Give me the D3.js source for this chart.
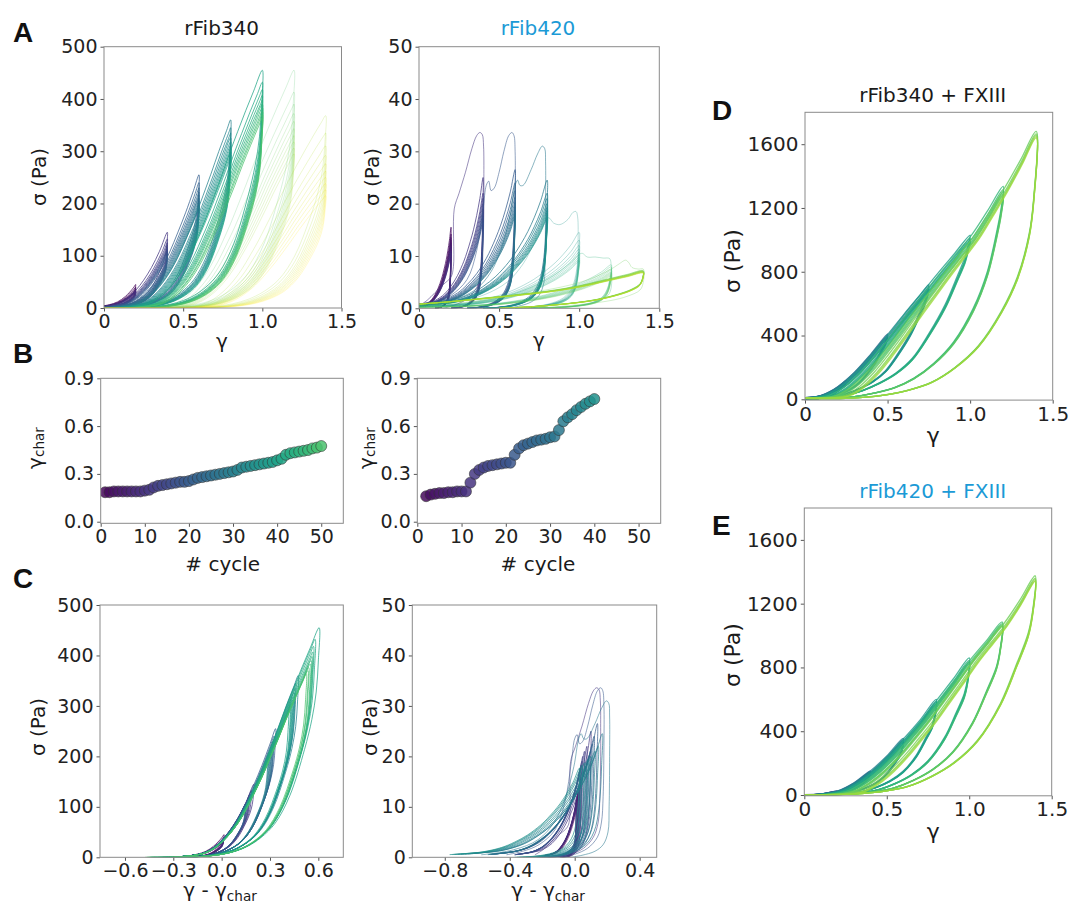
<!DOCTYPE html>
<meta charset="utf-8">
<style>
  body { margin: 0; background: #fff; }
  svg { font-family: "DejaVu Sans", sans-serif; }
  .frame { fill: none; stroke: #8a8a8a; stroke-width: 1; }
  .loop { fill: none; }
  .letter { font-family: "Liberation Sans", Arial, sans-serif; font-weight: bold; font-size: 28px; fill: #111; }
</style>
<body>
<script src="https://cdn.jsdelivr.net/npm/d3@7"></script>
<script>
// ---------- shared ----------
const ampGroups = [0.2, 0.4, 0.6, 0.8, 1.0, 1.2, 1.4];

// ---------- rFib340 (A left, B left, C left) ----------
// gamma_char per cycle 1..50 (panel B)
const gchar340 = [
  0.185, 0.185, 0.19, 0.19, 0.19, 0.19, 0.19, 0.19, 0.19, 0.195,
  0.20, 0.215, 0.225, 0.23, 0.235, 0.24, 0.245, 0.25, 0.25, 0.255,
  0.265, 0.275, 0.28, 0.285, 0.29, 0.295, 0.30, 0.305, 0.31, 0.315,
  0.325, 0.34, 0.345, 0.35, 0.355, 0.36, 0.365, 0.37, 0.375, 0.385,
  0.395, 0.42, 0.43, 0.435, 0.44, 0.445, 0.45, 0.46, 0.465, 0.475];
// cycles 51..70, only drawn faded in panel A
const gcharLate340 = [0.55, 0.57, 0.59, 0.61, 0.62, 0.63, 0.64, 0.65, 0.66, 0.67,
  0.72, 0.74, 0.76, 0.77, 0.78, 0.79, 0.80, 0.81, 0.82, 0.83];
// peak stress (Pa) per cycle 1..70
const peak340 = [
  45, 40, 37, 35, 34, 33, 32, 31, 30, 30,
  145, 132, 125, 120, 116, 112, 109, 106, 103, 100,
  255, 240, 230, 222, 216, 210, 205, 200, 196, 192,
  360, 345, 335, 326, 318, 311, 305, 299, 293, 288,
  455, 432, 418, 407, 398, 390, 383, 376, 370, 364,
  455, 413, 390, 372, 357, 343, 330, 318, 306, 295,
  368, 335, 310, 292, 276, 262, 250, 238, 226, 215];
// loading branch vs (gamma - gamma_char)
const loadX340 = [-0.35, -0.3, -0.25, -0.2, -0.15, -0.1, -0.05, 0, 0.05, 0.1, 0.15, 0.2, 0.25,
  0.3, 0.35, 0.4, 0.45, 0.5, 0.55, 0.6, 0.65, 0.7, 0.75, 0.8, 0.9];
const loadY340 = [0, 0.5, 1.5, 3, 5.5, 10, 19, 33, 52, 76, 106, 142, 180,
  222, 265, 310, 352, 393, 432, 470, 506, 540, 572, 602, 660];
// unloading branch, normalised strain w and stress / peak
const loopFoot340 = 0.3;
const unloadW340 = [1, 0.995, 0.98, 0.95, 0.9, 0.8, 0.7, 0.6, 0.5, 0.4, 0.3, 0.2, 0.1, 0];
const unloadY340 = [1, 0.86, 0.72, 0.6, 0.47, 0.27, 0.15, 0.085, 0.045, 0.022, 0.01, 0.004, 0.001, 0];

// ---------- rFib420 (A right, B right, C right) ----------
// gamma_char per cycle 2..40
const gchar420 = [
  0.16, 0.17, 0.175, 0.18, 0.18, 0.185, 0.185, 0.19, 0.19, 0.19,
  0.245, 0.30, 0.325, 0.34, 0.35, 0.355, 0.36, 0.365, 0.37, 0.37,
  0.42, 0.46, 0.48, 0.49, 0.50, 0.51, 0.515, 0.52, 0.53, 0.535,
  0.575, 0.63, 0.655, 0.675, 0.70, 0.72, 0.74, 0.755, 0.77];
// peak stress per cycle 2..71
const peak420 = [
  15.5, 14.2, 13.5, 13, 12.5, 12.1, 11.7, 11.3, 11, 10.7,
  33.6, 25, 22, 21, 20, 19, 18.3, 17.6, 17, 16.5,
  33.6, 26.5, 24, 22.5, 21.2, 20.2, 19.4, 18.7, 18.1, 17.6,
  31, 24.5, 22, 21, 20, 19.3, 18.7, 18.2, 17.7, 17.3,
  18.5, 14.5, 13, 12, 11.3, 10.7, 10.2, 9.7, 9.3, 9,
  10.5, 8.3, 7.9, 7.5, 7.2, 6.9, 6.7, 6.5, 6.3, 6.1,
  9.2, 7.2, 7.1, 7.0, 7.0, 6.9, 6.9, 6.8, 6.8, 6.7];
// typical loop, strain / amplitude and stress / peak
const loadU420 = [0, 0.1, 0.25, 0.4, 0.5, 0.6, 0.7, 0.75, 0.8, 0.85, 0.9, 0.95, 1];
const loadY420 = [0.03, 0.04, 0.06, 0.11, 0.17, 0.25, 0.36, 0.43, 0.51, 0.6, 0.71, 0.84, 1];
const unloadU420 = [1, 0.995, 0.985, 0.97, 0.95, 0.92, 0.88, 0.83, 0.77, 0.7, 0.6, 0.5];
const unloadY420 = [1, 0.75, 0.52, 0.36, 0.25, 0.17, 0.11, 0.07, 0.04, 0.02, 0.006, 0];
// first cycle of each amplitude step, [gamma, sigma]
const loop420c12 = [[0, 0.5], [0.05, 1.5], [0.1, 3], [0.15, 4.5], [0.2, 6], [0.215, 8], [0.22, 19], [0.25, 22],
  [0.29, 26], [0.33, 30.5], [0.36, 33], [0.38, 33.6], [0.395, 33.2], [0.403, 31], [0.405, 25], [0.405, 20],
  [0.4, 12], [0.39, 7], [0.36, 4], [0.3, 1.8], [0.22, 0.6], [0.15, 0]];
const loop420c22 = [[0, 0.5], [0.1, 1.2], [0.2, 2.5], [0.3, 5.5], [0.36, 11], [0.4, 19], [0.42, 23.5], [0.435, 24.3],
  [0.45, 22.5], [0.47, 23], [0.5, 26], [0.53, 30], [0.56, 33], [0.58, 33.6], [0.593, 33], [0.6, 30], [0.6, 22],
  [0.595, 12], [0.585, 7], [0.56, 4], [0.5, 1.8], [0.42, 0.6], [0.35, 0]];
const loop420c32 = [[0, 0.5], [0.2, 1.5], [0.35, 3.5], [0.45, 7], [0.52, 12], [0.57, 18], [0.6, 23.5], [0.615, 24.5],
  [0.63, 23.5], [0.65, 23.5], [0.7, 26.5], [0.74, 29.5], [0.77, 31], [0.785, 30.5], [0.79, 28], [0.79, 20],
  [0.787, 10], [0.78, 5], [0.75, 2.5], [0.7, 1.2], [0.62, 0.4], [0.55, 0]];
const loop420c42 = [[0, 0.3], [0.2, 1], [0.4, 2.5], [0.55, 5], [0.65, 8.5], [0.72, 12.5], [0.78, 16], [0.81, 17.3],
  [0.84, 16.3], [0.88, 16], [0.93, 17], [0.96, 18.3], [0.98, 18.5], [0.99, 17.5], [0.993, 12], [0.99, 6],
  [0.97, 3.5], [0.93, 2], [0.85, 1], [0.75, 0.4], [0.6, 0]];
const loop420c52 = [[0, 0.3], [0.3, 1], [0.5, 2], [0.7, 4], [0.85, 6.5], [0.95, 8.8], [1.0, 10.3], [1.02, 10.5],
  [1.05, 9.8], [1.1, 9.8], [1.15, 9.6], [1.19, 9.5], [1.2, 8], [1.2, 4], [1.18, 2.5], [1.1, 1.2], [1.0, 0.5], [0.85, 0]];
const loop420c62 = [[0, 0.5], [0.4, 1.5], [0.7, 3], [0.95, 4.5], [1.1, 6], [1.2, 7.5], [1.25, 8.5], [1.29, 9.2],
  [1.31, 8.7], [1.33, 7.8], [1.37, 7.5], [1.4, 7.5], [1.4, 5], [1.38, 3.5], [1.3, 2.3], [1.2, 1.5], [1.0, 0.7],
  [0.8, 0.2], [0.6, 0]];
// loops after failure (cycles 63..71), drawn for a 7 Pa peak
const lateLoop420 = [[0, 0.8], [0.2, 1.3], [0.5, 2.2], [0.8, 3.2], [1.0, 4.2], [1.2, 5.6], [1.3, 6.3], [1.4, 7.0],
  [1.4, 6.2], [1.38, 4.6], [1.33, 3.6], [1.25, 2.7], [1.1, 1.6], [0.9, 0.8], [0.7, 0.3], [0.5, 0]];

// ---------- + FXIII (D, E) ----------
const ampD = [0.25, 0.5, 0.75, 1.0, 1.2, 1.4];
const peakD = [120, 115, 112, 110, 108, 410, 400, 395, 390, 386, 720, 705, 695, 688, 682,
  1030, 1010, 1000, 992, 985, 1335, 1315, 1300, 1290, 1282, 1680, 1665, 1655, 1648, 1640];
const onsetD = [0, 0, 0, 0, 0, 0, 0.01, 0.02, 0.02, 0.03, 0, 0.02, 0.03, 0.04, 0.05,
  0.02, 0.05, 0.07, 0.08, 0.09, 0.05, 0.09, 0.11, 0.12, 0.13, 0.1, 0.15, 0.17, 0.18, 0.19];
const loadXD = [0, 0.05, 0.1, 0.15, 0.2, 0.3, 0.4, 0.5, 0.6, 0.7, 0.8, 0.9, 1.0, 1.1, 1.2, 1.3, 1.4];
const loadYD = [10, 14, 25, 48, 80, 170, 285, 410, 540, 665, 790, 910, 1030, 1180, 1335, 1505, 1680];
const unloadWD = [1, 0.99, 0.97, 0.92, 0.85, 0.75, 0.65, 0.55, 0.45, 0.35, 0.25, 0.15, 0];
// unloading for the steps up to 1.0, at 1.2 and at 1.4
const unloadYD10 = [1, 0.95, 0.87, 0.745, 0.58, 0.4, 0.25, 0.16, 0.1, 0.055, 0.025, 0.01, 0.006];
const unloadYD12 = [1, 0.9, 0.8, 0.6, 0.43, 0.27, 0.17, 0.1, 0.055, 0.03, 0.013, 0.005, 0.005];
const unloadYD14 = [1, 0.76, 0.62, 0.46, 0.33, 0.2, 0.12, 0.065, 0.035, 0.017, 0.007, 0.003, 0.004];

const ampE = [0.2, 0.4, 0.6, 0.8, 1.0, 1.2, 1.4];
const peakE = [25, 24, 23, 22, 22, 150, 145, 142, 140, 138, 355, 345, 340, 335, 332,
  600, 585, 578, 572, 567, 860, 845, 835, 828, 822, 1085, 1075, 1068, 1062, 1058,
  1375, 1360, 1352, 1345, 1340];
const onsetE = [0, 0, 0, 0, 0, 0, 0.01, 0.01, 0.02, 0.02, 0, 0.02, 0.03, 0.03, 0.04,
  0.02, 0.04, 0.05, 0.06, 0.06, 0.04, 0.07, 0.08, 0.09, 0.1, 0.07, 0.1, 0.12, 0.13, 0.14,
  0.12, 0.16, 0.18, 0.19, 0.2];
const loadXE = [0, 0.1, 0.2, 0.3, 0.4, 0.5, 0.6, 0.7, 0.8, 0.9, 1.0, 1.1, 1.2, 1.3, 1.4];
const loadYE = [2, 6, 24, 75, 150, 245, 355, 470, 598, 725, 855, 970, 1085, 1225, 1375];
const unloadWE = [1, 0.99, 0.97, 0.92, 0.85, 0.75, 0.65, 0.55, 0.45, 0.35, 0.25, 0.15, 0];
const unloadYE = [1, 0.85, 0.74, 0.6, 0.42, 0.25, 0.15, 0.085, 0.04, 0.018, 0.007, 0.003, 0.002];

// ---------- loop builders ----------
const load340 = d3.scaleLinear().domain(loadX340).range(loadY340).clamp(true);
function loop340(c) {
  const A = ampGroups[Math.floor((c - 1) / 10)];
  const g = c <= 50 ? gchar340[c - 1] : gcharLate340[c - 51];
  const P = peak340[c - 1];
  const k = P / load340(A - g);
  const pts = [[0, k * load340(-g)]];
  loadX340.forEach((x, i) => {
    const gm = x + g;
    if (gm > 0 && gm < A - 0.005) pts.push([gm, k * loadY340[i]]);
  });
  pts.push([A, P]);
  const g0 = g - loopFoot340;
  unloadW340.forEach((w, i) => {
    if (i === 0) return;
    const gm = g0 + w * (A - g0);
    if (gm >= 0) pts.push([gm, P * unloadY340[i]]);
  });
  return { c, g, pts };
}

const firstLoops420 = new Map([[12, loop420c12], [22, loop420c22], [32, loop420c32],
  [42, loop420c42], [52, loop420c52], [62, loop420c62]]);
function loop420(c) {
  const A = ampGroups[Math.floor((c - 2) / 10)];
  const P = peak420[c - 2];
  let pts;
  if (firstLoops420.has(c)) pts = firstLoops420.get(c);
  else if (c > 62) pts = lateLoop420.map(([gm, s]) => [gm, s * P / 7]);
  else {
    pts = loadU420.map((u, i) => [u * A, loadY420[i] * P]);
    unloadU420.forEach((u, i) => { if (i > 0) pts.push([u * A, unloadY420[i] * P]); });
  }
  return { c, g: c <= 40 ? gchar420[c - 2] : null, first: firstLoops420.has(c), pts };
}

function loopsFX(amp, peaks, onsets, loadX, loadY, unW, unYs) {
  const M = d3.scaleLinear().domain(loadX).range(loadY);
  const per = peaks.length / amp.length;
  return peaks.map((P, i) => {
    const gi = Math.floor(i / per);
    const A = amp[gi], s = onsets[i], unY = unYs[gi];
    const k = P / M(A);
    const pts = [[0, k * loadY[0]]];
    loadX.forEach((x, j) => {
      const gm = s + x * (A - s) / A;
      if (x > 0 && gm < A - 0.005) pts.push([gm, k * loadY[j]]);
    });
    pts.push([A, P]);
    unW.forEach((w, j) => { if (j > 0) pts.push([w * A, P * unY[j]]); });
    return { i, n: peaks.length, pts };
  });
}

// ---------- drawing ----------
const W = 1069, H = 906;
const svg = d3.select("body").append("svg").attr("width", W).attr("height", H);
const lineGen = d3.line().curve(d3.curveCatmullRom.alpha(0.5));

function makePanel(id, box, xDom, yDom, xTicks, yTicks, xFmt, yFmt, fs) {
  const [l, r, t, b] = box;
  const x = d3.scaleLinear().domain(xDom).range([l, r]);
  const y = d3.scaleLinear().domain(yDom).range([b, t]);
  svg.append("clipPath").attr("id", id).append("rect")
    .attr("x", l).attr("y", t).attr("width", r - l).attr("height", b - t);
  const g = svg.append("g");
  const plot = g.append("g").attr("clip-path", "url(#" + id + ")");
  const ax = g.append("g").attr("transform", "translate(0," + b + ")")
    .call(d3.axisBottom(x).tickValues(xTicks).tickFormat(xFmt).tickSize(3.5).tickPadding(3));
  const ay = g.append("g").attr("transform", "translate(" + l + ",0)")
    .call(d3.axisLeft(y).tickValues(yTicks).tickFormat(yFmt).tickSize(3.5).tickPadding(3));
  [ax, ay].forEach(a => {
    a.select(".domain").remove();
    a.selectAll("line").attr("stroke", "#555");
    a.selectAll("text").attr("font-size", fs).attr("font-family", "DejaVu Sans").attr("fill", "#222");
  });
  g.append("rect").attr("class", "frame").attr("x", l).attr("y", t).attr("width", r - l).attr("height", b - t);
  return { plot, x, y };
}

function label(x, y, txt, size, opts = {}) {
  return svg.append("text").attr("x", x).attr("y", y).attr("font-size", size)
    .attr("text-anchor", "middle").attr("fill", opts.fill || "#1a1a1a").text(txt);
}
function yLabel(x, y, size, parts) {
  const t = svg.append("text").attr("transform", "translate(" + x + "," + y + ") rotate(-90)")
    .attr("text-anchor", "middle").attr("dominant-baseline", "central").attr("font-size", size).attr("fill", "#1a1a1a");
  parts.forEach(p => {
    const s = t.append("tspan").text(p.t);
    if (p.sub) s.attr("font-size", size * 0.68).attr("dy", size * 0.22);
  });
  return t;
}
function xLabelSub(x, y, size, parts) {
  const t = svg.append("text").attr("x", x).attr("y", y).attr("text-anchor", "middle")
    .attr("font-size", size).attr("fill", "#1a1a1a");
  parts.forEach(p => {
    const s = t.append("tspan").text(p.t);
    if (p.sub) s.attr("font-size", size * 0.68).attr("dy", size * 0.22);
  });
}
function drawLoops(panel, loops, xf, color, opacity, width) {
  panel.plot.selectAll(null).data(loops).enter().append("path")
    .attr("class", "loop")
    .attr("d", d => lineGen(d.pts.map(p => [panel.x(xf(p[0], d)), panel.y(p[1])])))
    .attr("stroke", color).attr("stroke-opacity", opacity).attr("stroke-width", width);
}

const fmtStrain = d => d === 0 ? "0" : d.toFixed(1);
const fmtInt = d => String(d);
const fmt1 = d3.format(".1f");
const blue = "#1b9ad6";

// ---- A ----
const cyc340 = d3.range(1, 71).map(loop340);
const cyc420 = d3.range(2, 72).map(loop420);
const col340 = c => d3.interpolateViridis(c / 70);
const col420 = c => d3.interpolateViridis(c / 80);
const op420 = d => d.c <= 41 ? (d.first ? 0.55 : 0.75) : (d.c <= 62 ? 0.3 : 0.55);

const pA1 = makePanel("cA1", [104, 341.5, 46.7, 308], [0, 1.5], [0, 500], [0, 0.5, 1, 1.5], d3.range(0, 501, 100), fmtStrain, fmtInt, 19);
drawLoops(pA1, cyc340, g => g, d => col340(d.c), d => d.c <= 50 ? 0.75 : 0.22, 1);
const pA2 = makePanel("cA2", [419, 659.3, 46.7, 308.3], [0, 1.5], [0, 50], [0, 0.5, 1, 1.5], d3.range(0, 51, 10), fmtStrain, fmtInt, 19);
drawLoops(pA2, cyc420, g => g, d => col420(d.c), op420, 1);

// ---- B ----
const pB1 = makePanel("cB1", [100.7, 343.3, 378.3, 523.3], [0, 55], [-0.01, 0.9], d3.range(0, 51, 10), [0, 0.3, 0.6, 0.9], fmtInt, fmt1, 19);
pB1.plot.selectAll(null).data(gchar340).enter().append("circle")
  .attr("cx", (v, i) => pB1.x(i + 1)).attr("cy", v => pB1.y(v)).attr("r", 5.5)
  .attr("fill", (v, i) => col340(i + 1)).attr("fill-opacity", 0.85)
  .attr("stroke", "#333").attr("stroke-opacity", 0.8).attr("stroke-width", 0.7);
const pB2 = makePanel("cB2", [417.3, 660.7, 378.3, 523.3], [0, 55], [-0.01, 0.9], d3.range(0, 51, 10), [0, 0.3, 0.6, 0.9], fmtInt, fmt1, 19);
pB2.plot.selectAll(null).data(gchar420).enter().append("circle")
  .attr("cx", (v, i) => pB2.x(i + 2)).attr("cy", v => pB2.y(v)).attr("r", 5.5)
  .attr("fill", (v, i) => col420(i + 2)).attr("fill-opacity", 0.85)
  .attr("stroke", "#333").attr("stroke-opacity", 0.8).attr("stroke-width", 0.7);

// ---- C ----
const pC1 = makePanel("cC1", [100, 343.3, 605, 857.3], [-0.755, 0.755], [0, 500], [-0.6, -0.3, 0, 0.3, 0.6], d3.range(0, 501, 100), fmt1, fmtInt, 19);
drawLoops(pC1, cyc340.filter(d => d.c <= 50), (g, d) => g - d.g, d => col340(d.c), 0.75, 1);
const pC2 = makePanel("cC2", [412.3, 656.7, 605, 857.3], [-1.0, 0.505], [0, 50], [-0.8, -0.4, 0, 0.4], d3.range(0, 51, 10), fmt1, fmtInt, 19);
drawLoops(pC2, cyc420.filter(d => d.c <= 40), (g, d) => g - d.g, d => col420(d.c), d => d.first ? 0.55 : 0.7, 1);

// ---- D, E ----
const colFX = d => d3.interpolateViridis(0.25 + 0.6 * d.i / (d.n - 1));
const unYD = [unloadYD10, unloadYD10, unloadYD10, unloadYD10, unloadYD12, unloadYD14];
const unYE = ampE.map(() => unloadYE);
const pD = makePanel("cD", [805, 1052.7, 112.3, 400.1], [0, 1.5], [-5, 1800], [0, 0.5, 1, 1.5], d3.range(0, 1601, 400), fmtStrain, fmtInt, 20);
drawLoops(pD, loopsFX(ampD, peakD, onsetD, loadXD, loadYD, unloadWD, unYD), g => g, colFX, 0.8, 1.3);
const pE = makePanel("cE", [804.3, 1051.7, 508, 795.8], [0, 1.5], [-5, 1800], [0, 0.5, 1, 1.5], d3.range(0, 1601, 400), fmtStrain, fmtInt, 20);
drawLoops(pE, loopsFX(ampE, peakE, onsetE, loadXE, loadYE, unloadWE, unYE), g => g, colFX, 0.8, 1.3);

// ---- texts ----
[["A", 13, 42], ["B", 13, 363], ["C", 13, 588], ["D", 712, 120], ["E", 712, 535]].forEach(([t, x, y]) =>
  svg.append("text").attr("class", "letter").attr("x", x).attr("y", y).text(t));

label(221.7, 35, "rFib340", 20);
label(538, 35, "rFib420", 20, { fill: blue });
label(932.7, 101.7, "rFib340 + FXIII", 20);
label(932.7, 498.3, "rFib420 + FXIII", 20, { fill: blue });

yLabel(39, 177, 20, [{ t: "σ (Pa)" }]);
yLabel(371.7, 177, 20, [{ t: "σ (Pa)" }]);
label(222, 348, "γ", 20);
label(539, 347, "γ", 20);

yLabel(35, 448, 20, [{ t: "γ" }, { t: "char", sub: true }]);
yLabel(366, 448, 20, [{ t: "γ" }, { t: "char", sub: true }]);
label(222.7, 571, "# cycle", 20);
label(538, 571, "# cycle", 20);

yLabel(37.7, 727, 20, [{ t: "σ (Pa)" }]);
yLabel(370, 727, 20, [{ t: "σ (Pa)" }]);
xLabelSub(220, 897, 20, [{ t: "γ - γ" }, { t: "char", sub: true }]);
xLabelSub(548, 897, 20, [{ t: "γ - γ" }, { t: "char", sub: true }]);

yLabel(732, 261, 22, [{ t: "σ (Pa)" }]);
yLabel(732, 655, 22, [{ t: "σ (Pa)" }]);
label(933.3, 443, "γ", 22);
label(933.3, 839, "γ", 22);
</script>
</body>
